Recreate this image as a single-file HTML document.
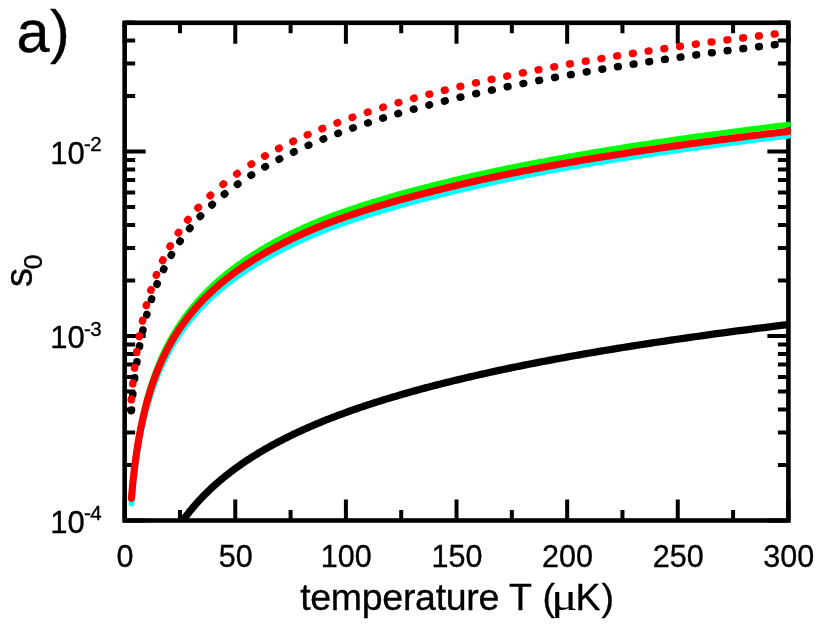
<!DOCTYPE html>
<html><head><meta charset="utf-8"><title>a)</title>
<style>
html,body{margin:0;padding:0;background:#fff;}
body{width:830px;height:626px;overflow:hidden;font-family:"Liberation Sans",sans-serif;}
svg{display:block;will-change:transform;}
text{font-family:"Liberation Sans",sans-serif;fill:#000;stroke:#000;stroke-width:0.35px;}
</style></head><body>
<svg width="830" height="626" viewBox="0 0 830 626">
<rect width="830" height="626" fill="#fff"/>
<rect x="124.65" y="22.8" width="663.75" height="497.7" fill="none" stroke="#000" stroke-width="4.6"/>
<path d="M124.65 520.5 v-21 M124.65 22.8 v21 M179.96 520.5 v-10.5 M179.96 22.8 v10.5 M235.28 520.5 v-21 M235.28 22.8 v21 M290.59 520.5 v-10.5 M290.59 22.8 v10.5 M345.90 520.5 v-21 M345.90 22.8 v21 M401.21 520.5 v-10.5 M401.21 22.8 v10.5 M456.52 520.5 v-21 M456.52 22.8 v21 M511.84 520.5 v-10.5 M511.84 22.8 v10.5 M567.15 520.5 v-21 M567.15 22.8 v21 M622.46 520.5 v-10.5 M622.46 22.8 v10.5 M677.77 520.5 v-21 M677.77 22.8 v21 M733.09 520.5 v-10.5 M733.09 22.8 v10.5 M788.40 520.5 v-21 M788.40 22.8 v21 M124.65 520.50 h21 M788.4 520.50 h-21 M124.65 464.96 h10.5 M788.4 464.96 h-10.5 M124.65 432.47 h10.5 M788.4 432.47 h-10.5 M124.65 409.42 h10.5 M788.4 409.42 h-10.5 M124.65 391.54 h10.5 M788.4 391.54 h-10.5 M124.65 376.93 h10.5 M788.4 376.93 h-10.5 M124.65 364.58 h10.5 M788.4 364.58 h-10.5 M124.65 353.88 h10.5 M788.4 353.88 h-10.5 M124.65 344.44 h10.5 M788.4 344.44 h-10.5 M124.65 336.00 h21 M788.4 336.00 h-21 M124.65 280.46 h10.5 M788.4 280.46 h-10.5 M124.65 247.97 h10.5 M788.4 247.97 h-10.5 M124.65 224.92 h10.5 M788.4 224.92 h-10.5 M124.65 207.04 h10.5 M788.4 207.04 h-10.5 M124.65 192.43 h10.5 M788.4 192.43 h-10.5 M124.65 180.08 h10.5 M788.4 180.08 h-10.5 M124.65 169.38 h10.5 M788.4 169.38 h-10.5 M124.65 159.94 h10.5 M788.4 159.94 h-10.5 M124.65 151.50 h21 M788.4 151.50 h-21 M124.65 95.96 h10.5 M788.4 95.96 h-10.5 M124.65 63.47 h10.5 M788.4 63.47 h-10.5 M124.65 40.42 h10.5 M788.4 40.42 h-10.5 M124.65 22.54 h10.5 M788.4 22.54 h-10.5" stroke="#000" stroke-width="4.0" fill="none"/>
<clipPath id="cp"><rect x="0" y="0" width="790.70" height="521.00"/></clipPath>
<clipPath id="cr"><rect x="0" y="0" width="790.70" height="626"/></clipPath>
<path d="M131.42 692.91 L131.50 692.00 L131.58 691.08 L131.66 690.16 L131.74 689.24 L131.82 688.32 L131.90 687.40 L131.99 686.48 L132.07 685.57 L132.16 684.65 L132.24 683.73 L132.33 682.81 L132.42 681.89 L132.51 680.97 L132.60 680.05 L132.69 679.14 L132.78 678.22 L132.88 677.30 L132.97 676.38 L133.07 675.46 L133.16 674.54 L133.26 673.63 L133.36 672.71 L133.46 671.79 L133.56 670.87 L133.67 669.95 L133.77 669.03 L133.88 668.11 L133.98 667.20 L134.09 666.28 L134.20 665.36 L134.31 664.44 L134.42 663.52 L134.53 662.60 L134.65 661.68 L134.76 660.77 L134.88 659.85 L135.00 658.93 L135.12 658.01 L135.24 657.09 L135.36 656.17 L135.48 655.25 L135.61 654.34 L135.73 653.42 L135.86 652.50 L135.99 651.58 L136.12 650.66 L136.25 649.74 L136.39 648.82 L136.52 647.91 L136.66 646.99 L136.80 646.07 L136.94 645.15 L137.08 644.23 L137.22 643.31 L137.37 642.39 L137.51 641.48 L137.66 640.56 L137.81 639.64 L137.96 638.72 L138.12 637.80 L138.27 636.88 L138.43 635.97 L138.59 635.05 L138.75 634.13 L138.91 633.21 L139.08 632.29 L139.24 631.37 L139.41 630.45 L139.58 629.54 L139.75 628.62 L139.93 627.70 L140.10 626.78 L140.28 625.86 L140.46 624.94 L140.65 624.02 L140.83 623.11 L141.02 622.19 L141.20 621.27 L141.40 620.35 L141.59 619.43 L141.78 618.51 L141.98 617.59 L142.18 616.68 L142.38 615.76 L142.59 614.84 L142.79 613.92 L143.00 613.00 L143.22 612.08 L143.43 611.16 L143.65 610.25 L143.87 609.33 L144.09 608.41 L144.31 607.49 L144.54 606.57 L144.77 605.65 L145.00 604.74 L145.23 603.82 L145.47 602.90 L145.71 601.98 L145.95 601.06 L146.20 600.14 L146.45 599.22 L146.70 598.31 L146.95 597.39 L147.21 596.47 L147.47 595.55 L147.73 594.63 L148.00 593.71 L148.27 592.79 L148.54 591.88 L148.82 590.96 L149.10 590.04 L149.38 589.12 L149.66 588.20 L149.95 587.28 L150.24 586.36 L150.54 585.45 L150.84 584.53 L151.14 583.61 L151.44 582.69 L151.75 581.77 L152.06 580.85 L152.38 579.93 L152.70 579.02 L153.02 578.10 L153.35 577.18 L153.68 576.26 L154.02 575.34 L154.36 574.42 L154.70 573.51 L155.04 572.59 L155.39 571.67 L155.75 570.75 L156.11 569.83 L156.47 568.91 L156.84 567.99 L157.21 567.08 L157.58 566.16 L157.96 565.24 L158.35 564.32 L158.74 563.40 L159.13 562.48 L159.53 561.56 L159.93 560.65 L160.34 559.73 L160.75 558.81 L161.16 557.89 L161.58 556.97 L162.01 556.05 L162.44 555.13 L162.88 554.22 L163.32 553.30 L163.76 552.38 L164.21 551.46 L164.67 550.54 L165.13 549.62 L165.60 548.70 L166.07 547.79 L166.55 546.87 L167.03 545.95 L167.52 545.03 L168.01 544.11 L168.51 543.19 L169.02 542.27 L169.53 541.36 L170.05 540.44 L170.57 539.52 L171.10 538.60 L171.64 537.68 L172.18 536.76 L172.73 535.85 L173.28 534.93 L173.84 534.01 L174.41 533.09 L174.98 532.17 L175.56 531.25 L176.15 530.33 L176.74 529.42 L177.34 528.50 L177.95 527.58 L178.57 526.66 L179.19 525.74 L179.82 524.82 L180.45 523.90 L181.10 522.97 L181.75 522.04 L182.40 521.12 L183.07 520.19 L183.74 519.26 L184.43 518.33 L185.11 517.41 L185.81 516.48 L186.52 515.55 L187.23 514.63 L187.95 513.70 L188.68 512.77 L189.42 511.84 L190.17 510.92 L190.92 509.99 L191.69 509.06 L192.46 508.13 L193.24 507.21 L194.03 506.28 L194.83 505.35 L195.64 504.43 L196.46 503.50 L197.29 502.57 L198.12 501.64 L198.97 500.72 L199.83 499.79 L200.69 498.86 L201.57 497.93 L202.46 497.01 L203.36 496.08 L204.26 495.15 L205.18 494.23 L206.11 493.30 L207.05 492.37 L208.00 491.44 L208.96 490.52 L209.93 489.59 L210.91 488.66 L211.91 487.74 L212.92 486.81 L213.93 485.88 L214.96 484.95 L216.00 484.03 L217.06 483.10 L218.12 482.17 L219.20 481.24 L220.29 480.32 L221.39 479.39 L222.51 478.46 L223.64 477.54 L224.78 476.61 L225.93 475.68 L227.10 474.75 L228.28 473.83 L229.48 472.90 L230.68 471.97 L231.91 471.05 L233.14 470.12 L234.39 469.19 L235.66 468.26 L236.94 467.33 L238.23 466.41 L239.54 465.48 L240.87 464.55 L242.21 463.62 L243.56 462.69 L244.93 461.76 L246.32 460.83 L247.72 459.91 L249.14 458.98 L250.58 458.05 L252.03 457.12 L253.50 456.19 L254.98 455.26 L256.49 454.33 L258.01 453.40 L259.54 452.48 L261.10 451.55 L262.67 450.62 L264.26 449.69 L265.87 448.76 L267.50 447.83 L269.15 446.90 L270.81 445.97 L272.50 445.05 L274.20 444.12 L275.93 443.19 L277.67 442.26 L279.44 441.33 L281.22 440.40 L283.03 439.47 L284.85 438.54 L286.70 437.62 L288.57 436.69 L290.46 435.76 L292.37 434.83 L294.30 433.90 L296.26 432.97 L298.24 432.04 L300.24 431.11 L302.26 430.19 L304.31 429.26 L306.38 428.33 L308.48 427.40 L310.60 426.47 L312.74 425.54 L314.91 424.61 L317.10 423.69 L319.32 422.76 L321.57 421.83 L323.84 420.90 L326.13 419.98 L328.46 419.06 L330.81 418.15 L333.18 417.23 L335.59 416.31 L338.02 415.39 L340.48 414.48 L342.97 413.56 L345.49 412.64 L348.03 411.72 L350.61 410.81 L353.21 409.89 L355.85 408.97 L358.51 408.05 L361.21 407.14 L363.94 406.22 L366.70 405.30 L369.49 404.38 L372.31 403.47 L375.16 402.55 L378.05 401.63 L380.97 400.71 L383.93 399.80 L386.92 398.88 L389.94 397.96 L393.00 397.04 L396.09 396.13 L399.22 395.21 L402.39 394.29 L405.59 393.37 L408.83 392.46 L412.11 391.54 L415.42 390.62 L418.77 389.70 L422.17 388.79 L425.60 387.87 L429.07 386.95 L432.58 386.03 L436.13 385.12 L439.72 384.20 L443.35 383.28 L447.02 382.36 L450.74 381.45 L454.50 380.53 L458.30 379.61 L462.15 378.69 L466.04 377.78 L469.98 376.86 L473.96 375.94 L477.99 375.02 L482.06 374.10 L486.18 373.19 L490.35 372.27 L494.56 371.35 L498.83 370.43 L503.14 369.52 L507.51 368.60 L511.92 367.68 L516.39 366.76 L520.90 365.85 L525.47 364.93 L530.09 364.01 L534.77 363.09 L539.50 362.18 L544.28 361.26 L549.12 360.34 L554.01 359.42 L558.96 358.51 L563.97 357.59 L569.03 356.67 L574.16 355.75 L579.34 354.84 L584.58 353.92 L589.88 353.00 L595.25 352.08 L600.67 351.17 L606.16 350.25 L611.71 349.33 L617.33 348.41 L623.01 347.50 L628.75 346.58 L634.57 345.66 L640.45 344.74 L646.39 343.83 L652.41 342.91 L658.49 341.99 L664.65 341.07 L670.87 340.16 L677.17 339.24 L683.54 338.32 L689.98 337.40 L696.50 336.49 L703.10 335.57 L709.76 334.65 L716.51 333.73 L723.33 332.82 L730.24 331.90 L737.22 330.98 L744.28 330.06 L751.43 329.15 L758.65 328.23 L765.96 327.31 L773.36 326.39 L780.83 325.48 L788.40 324.56" stroke="#000" stroke-width="7.3" fill="none" stroke-linejoin="round" clip-path="url(#cp)"/>
<path d="M131.42 503.62 L131.50 502.69 L131.58 501.77 L131.66 500.85 L131.74 499.92 L131.82 499.00 L131.90 498.08 L131.99 497.16 L132.07 496.23 L132.16 495.31 L132.24 494.39 L132.33 493.46 L132.42 492.54 L132.51 491.62 L132.60 490.70 L132.69 489.77 L132.78 488.85 L132.88 487.93 L132.97 487.00 L133.07 486.08 L133.16 485.16 L133.26 484.24 L133.36 483.31 L133.46 482.39 L133.56 481.47 L133.67 480.54 L133.77 479.62 L133.88 478.70 L133.98 477.78 L134.09 476.85 L134.20 475.93 L134.31 475.01 L134.42 474.08 L134.53 473.16 L134.65 472.24 L134.76 471.32 L134.88 470.39 L135.00 469.47 L135.12 468.55 L135.24 467.62 L135.36 466.70 L135.48 465.78 L135.61 464.86 L135.73 463.93 L135.86 463.01 L135.99 462.09 L136.12 461.16 L136.25 460.24 L136.39 459.32 L136.52 458.40 L136.66 457.47 L136.80 456.55 L136.94 455.63 L137.08 454.70 L137.22 453.78 L137.37 452.86 L137.51 451.94 L137.66 451.01 L137.81 450.09 L137.96 449.17 L138.12 448.24 L138.27 447.32 L138.43 446.40 L138.59 445.47 L138.75 444.55 L138.91 443.63 L139.08 442.71 L139.24 441.78 L139.41 440.86 L139.58 439.94 L139.75 439.01 L139.93 438.09 L140.10 437.17 L140.28 436.25 L140.46 435.32 L140.65 434.40 L140.83 433.48 L141.02 432.55 L141.20 431.63 L141.40 430.71 L141.59 429.79 L141.78 428.86 L141.98 427.94 L142.18 427.02 L142.38 426.09 L142.59 425.16 L142.79 424.22 L143.00 423.29 L143.22 422.35 L143.43 421.42 L143.65 420.48 L143.87 419.55 L144.09 418.62 L144.31 417.68 L144.54 416.75 L144.77 415.81 L145.00 414.88 L145.23 413.94 L145.47 413.01 L145.71 412.07 L145.95 411.14 L146.20 410.20 L146.45 409.27 L146.70 408.33 L146.95 407.40 L147.21 406.46 L147.47 405.53 L147.73 404.59 L148.00 403.66 L148.27 402.73 L148.54 401.79 L148.82 400.86 L149.10 399.92 L149.38 398.99 L149.66 398.05 L149.95 397.12 L150.24 396.18 L150.54 395.25 L150.84 394.31 L151.14 393.38 L151.44 392.44 L151.75 391.51 L152.06 390.58 L152.38 389.64 L152.70 388.71 L153.02 387.77 L153.35 386.84 L153.68 385.90 L154.02 384.97 L154.36 384.03 L154.70 383.10 L155.04 382.16 L155.39 381.23 L155.75 380.29 L156.11 379.36 L156.47 378.43 L156.84 377.49 L157.21 376.56 L157.58 375.62 L157.96 374.69 L158.35 373.76 L158.74 372.83 L159.13 371.90 L159.53 370.97 L159.93 370.04 L160.34 369.11 L160.75 368.18 L161.16 367.25 L161.58 366.32 L162.01 365.39 L162.44 364.46 L162.88 363.53 L163.32 362.60 L163.76 361.67 L164.21 360.74 L164.67 359.81 L165.13 358.88 L165.60 357.95 L166.07 357.02 L166.55 356.09 L167.03 355.16 L167.52 354.23 L168.01 353.30 L168.51 352.37 L169.02 351.44 L169.53 350.52 L170.05 349.59 L170.57 348.67 L171.10 347.75 L171.64 346.82 L172.18 345.90 L172.73 344.98 L173.28 344.05 L173.84 343.13 L174.41 342.21 L174.98 341.28 L175.56 340.36 L176.15 339.44 L176.74 338.52 L177.34 337.59 L177.95 336.67 L178.57 335.75 L179.19 334.82 L179.82 333.90 L180.45 332.98 L181.10 332.05 L181.75 331.13 L182.40 330.21 L183.07 329.28 L183.74 328.36 L184.43 327.44 L185.11 326.52 L185.81 325.59 L186.52 324.67 L187.23 323.75 L187.95 322.82 L188.68 321.90 L189.42 320.98 L190.17 320.05 L190.92 319.13 L191.69 318.21 L192.46 317.28 L193.24 316.36 L194.03 315.44 L194.83 314.52 L195.64 313.59 L196.46 312.67 L197.29 311.75 L198.12 310.82 L198.97 309.90 L199.83 308.98 L200.69 308.05 L201.57 307.13 L202.46 306.21 L203.36 305.29 L204.26 304.36 L205.18 303.44 L206.11 302.52 L207.05 301.59 L208.00 300.67 L208.96 299.75 L209.93 298.82 L210.91 297.90 L211.91 296.98 L212.92 296.05 L213.93 295.13 L214.96 294.22 L216.00 293.30 L217.06 292.38 L218.12 291.46 L219.20 290.54 L220.29 289.62 L221.39 288.70 L222.51 287.78 L223.64 286.86 L224.78 285.94 L225.93 285.02 L227.10 284.10 L228.28 283.19 L229.48 282.27 L230.68 281.35 L231.91 280.43 L233.14 279.51 L234.39 278.59 L235.66 277.67 L236.94 276.75 L238.23 275.83 L239.54 274.91 L240.87 273.99 L242.21 273.07 L243.56 272.16 L244.93 271.24 L246.32 270.32 L247.72 269.40 L249.14 268.48 L250.58 267.56 L252.03 266.64 L253.50 265.72 L254.98 264.80 L256.49 263.88 L258.01 262.96 L259.54 262.04 L261.10 261.12 L262.67 260.21 L264.26 259.29 L265.87 258.37 L267.50 257.45 L269.15 256.53 L270.81 255.61 L272.50 254.69 L274.20 253.77 L275.93 252.85 L277.67 251.93 L279.44 251.01 L281.22 250.08 L283.03 249.15 L284.85 248.22 L286.70 247.29 L288.57 246.36 L290.46 245.43 L292.37 244.50 L294.30 243.57 L296.26 242.64 L298.24 241.71 L300.24 240.78 L302.26 239.85 L304.31 238.92 L306.38 237.99 L308.48 237.06 L310.60 236.13 L312.74 235.20 L314.91 234.27 L317.10 233.34 L319.32 232.41 L321.57 231.48 L323.84 230.55 L326.13 229.66 L328.46 228.77 L330.81 227.88 L333.18 227.00 L335.59 226.11 L338.02 225.22 L340.48 224.33 L342.97 223.44 L345.49 222.56 L348.03 221.67 L350.61 220.78 L353.21 219.89 L355.85 219.01 L358.51 218.12 L361.21 217.23 L363.94 216.34 L366.70 215.46 L369.49 214.57 L372.31 213.68 L375.16 212.79 L378.05 211.91 L380.97 211.02 L383.93 210.13 L386.92 209.24 L389.94 208.36 L393.00 207.47 L396.09 206.58 L399.22 205.69 L402.39 204.81 L405.59 203.92 L408.83 203.03 L412.11 202.14 L415.42 201.26 L418.77 200.37 L422.17 199.48 L425.60 198.59 L429.07 197.71 L432.58 196.81 L436.13 195.90 L439.72 194.98 L443.35 194.05 L447.02 193.13 L450.74 192.21 L454.50 191.29 L458.30 190.36 L462.15 189.44 L466.04 188.52 L469.98 187.60 L473.96 186.68 L477.99 185.75 L482.06 184.83 L486.18 183.91 L490.35 182.99 L494.56 182.07 L498.83 181.14 L503.14 180.22 L507.51 179.30 L511.92 178.38 L516.39 177.46 L520.90 176.53 L525.47 175.61 L530.09 174.69 L534.77 173.77 L539.50 172.84 L544.28 171.92 L549.12 171.01 L554.01 170.11 L558.96 169.21 L563.97 168.31 L569.03 167.40 L574.16 166.50 L579.34 165.60 L584.58 164.70 L589.88 163.80 L595.25 162.90 L600.67 162.00 L606.16 161.10 L611.71 160.20 L617.33 159.30 L623.01 158.40 L628.75 157.49 L634.57 156.59 L640.45 155.69 L646.39 154.79 L652.41 153.89 L658.49 152.99 L664.65 152.09 L670.87 151.19 L677.17 150.29 L683.54 149.39 L689.98 148.49 L696.50 147.59 L703.10 146.68 L709.76 145.78 L716.51 144.88 L723.33 143.98 L730.24 143.08 L737.22 142.18 L744.28 141.28 L751.43 140.38 L758.65 139.48 L765.96 138.58 L773.36 137.68 L780.83 136.78 L788.40 135.88" stroke="#00ffff" stroke-width="5.8" fill="none" stroke-linejoin="round" stroke-linecap="round" clip-path="url(#cr)"/>
<path d="M131.42 496.80 L131.50 495.86 L131.58 494.93 L131.66 493.99 L131.74 493.06 L131.82 492.12 L131.90 491.19 L131.99 490.25 L132.07 489.32 L132.16 488.38 L132.24 487.45 L132.33 486.52 L132.42 485.58 L132.51 484.65 L132.60 483.71 L132.69 482.78 L132.78 481.84 L132.88 480.91 L132.97 479.97 L133.07 479.04 L133.16 478.10 L133.26 477.17 L133.36 476.24 L133.46 475.30 L133.56 474.37 L133.67 473.43 L133.77 472.50 L133.88 471.56 L133.98 470.63 L134.09 469.69 L134.20 468.76 L134.31 467.82 L134.42 466.89 L134.53 465.96 L134.65 465.02 L134.76 464.09 L134.88 463.15 L135.00 462.22 L135.12 461.28 L135.24 460.35 L135.36 459.41 L135.48 458.48 L135.61 457.54 L135.73 456.61 L135.86 455.67 L135.99 454.74 L136.12 453.81 L136.25 452.87 L136.39 451.94 L136.52 451.00 L136.66 450.07 L136.80 449.13 L136.94 448.20 L137.08 447.26 L137.22 446.33 L137.37 445.39 L137.51 444.46 L137.66 443.53 L137.81 442.59 L137.96 441.66 L138.12 440.72 L138.27 439.79 L138.43 438.85 L138.59 437.92 L138.75 436.98 L138.91 436.05 L139.08 435.11 L139.24 434.18 L139.41 433.25 L139.58 432.31 L139.75 431.38 L139.93 430.44 L140.10 429.51 L140.28 428.57 L140.46 427.64 L140.65 426.70 L140.83 425.77 L141.02 424.83 L141.20 423.90 L141.40 422.97 L141.59 422.03 L141.78 421.10 L141.98 420.16 L142.18 419.23 L142.38 418.29 L142.59 417.34 L142.79 416.38 L143.00 415.43 L143.22 414.48 L143.43 413.53 L143.65 412.57 L143.87 411.62 L144.09 410.67 L144.31 409.71 L144.54 408.76 L144.77 407.81 L145.00 406.85 L145.23 405.90 L145.47 404.95 L145.71 404.00 L145.95 403.04 L146.20 402.09 L146.45 401.14 L146.70 400.18 L146.95 399.23 L147.21 398.28 L147.47 397.33 L147.73 396.37 L148.00 395.42 L148.27 394.47 L148.54 393.51 L148.82 392.56 L149.10 391.61 L149.38 390.65 L149.66 389.70 L149.95 388.75 L150.24 387.80 L150.54 386.84 L150.84 385.89 L151.14 384.94 L151.44 383.98 L151.75 383.03 L152.06 382.08 L152.38 381.13 L152.70 380.17 L153.02 379.22 L153.35 378.27 L153.68 377.31 L154.02 376.36 L154.36 375.41 L154.70 374.46 L155.04 373.50 L155.39 372.55 L155.75 371.60 L156.11 370.65 L156.47 369.69 L156.84 368.74 L157.21 367.79 L157.58 366.83 L157.96 365.88 L158.35 364.93 L158.74 363.98 L159.13 363.03 L159.53 362.07 L159.93 361.12 L160.34 360.17 L160.75 359.22 L161.16 358.26 L161.58 357.31 L162.01 356.36 L162.44 355.41 L162.88 354.46 L163.32 353.50 L163.76 352.55 L164.21 351.60 L164.67 350.65 L165.13 349.70 L165.60 348.74 L166.07 347.79 L166.55 346.84 L167.03 345.89 L167.52 344.94 L168.01 343.98 L168.51 343.03 L169.02 342.08 L169.53 341.14 L170.05 340.19 L170.57 339.25 L171.10 338.30 L171.64 337.36 L172.18 336.41 L172.73 335.47 L173.28 334.52 L173.84 333.58 L174.41 332.63 L174.98 331.69 L175.56 330.74 L176.15 329.80 L176.74 328.85 L177.34 327.91 L177.95 326.96 L178.57 326.02 L179.19 325.07 L179.82 324.13 L180.45 323.18 L181.10 322.23 L181.75 321.29 L182.40 320.34 L183.07 319.40 L183.74 318.45 L184.43 317.51 L185.11 316.56 L185.81 315.62 L186.52 314.67 L187.23 313.73 L187.95 312.78 L188.68 311.84 L189.42 310.89 L190.17 309.95 L190.92 309.00 L191.69 308.06 L192.46 307.11 L193.24 306.17 L194.03 305.22 L194.83 304.28 L195.64 303.33 L196.46 302.39 L197.29 301.44 L198.12 300.50 L198.97 299.55 L199.83 298.61 L200.69 297.66 L201.57 296.72 L202.46 295.77 L203.36 294.83 L204.26 293.88 L205.18 292.94 L206.11 291.99 L207.05 291.05 L208.00 290.10 L208.96 289.16 L209.93 288.21 L210.91 287.27 L211.91 286.32 L212.92 285.38 L213.93 284.43 L214.96 283.49 L216.00 282.55 L217.06 281.61 L218.12 280.67 L219.20 279.72 L220.29 278.78 L221.39 277.84 L222.51 276.90 L223.64 275.96 L224.78 275.01 L225.93 274.07 L227.10 273.13 L228.28 272.19 L229.48 271.25 L230.68 270.30 L231.91 269.36 L233.14 268.42 L234.39 267.48 L235.66 266.54 L236.94 265.59 L238.23 264.65 L239.54 263.71 L240.87 262.77 L242.21 261.82 L243.56 260.88 L244.93 259.94 L246.32 259.00 L247.72 258.06 L249.14 257.11 L250.58 256.17 L252.03 255.23 L253.50 254.29 L254.98 253.35 L256.49 252.40 L258.01 251.46 L259.54 250.52 L261.10 249.58 L262.67 248.64 L264.26 247.69 L265.87 246.75 L267.50 245.81 L269.15 244.87 L270.81 243.93 L272.50 242.98 L274.20 242.04 L275.93 241.10 L277.67 240.16 L279.44 239.22 L281.22 238.29 L283.03 237.36 L284.85 236.44 L286.70 235.51 L288.57 234.59 L290.46 233.66 L292.37 232.74 L294.30 231.81 L296.26 230.89 L298.24 229.96 L300.24 229.04 L302.26 228.11 L304.31 227.19 L306.38 226.26 L308.48 225.33 L310.60 224.41 L312.74 223.48 L314.91 222.56 L317.10 221.63 L319.32 220.71 L321.57 219.78 L323.84 218.86 L326.13 217.98 L328.46 217.09 L330.81 216.21 L333.18 215.33 L335.59 214.44 L338.02 213.56 L340.48 212.68 L342.97 211.80 L345.49 210.91 L348.03 210.03 L350.61 209.15 L353.21 208.27 L355.85 207.38 L358.51 206.50 L361.21 205.62 L363.94 204.74 L366.70 203.85 L369.49 202.97 L372.31 202.09 L375.16 201.21 L378.05 200.32 L380.97 199.44 L383.93 198.56 L386.92 197.68 L389.94 196.79 L393.00 195.91 L396.09 195.03 L399.22 194.15 L402.39 193.26 L405.59 192.38 L408.83 191.50 L412.11 190.62 L415.42 189.73 L418.77 188.85 L422.17 187.97 L425.60 187.09 L429.07 186.21 L432.58 185.32 L436.13 184.43 L439.72 183.53 L443.35 182.63 L447.02 181.73 L450.74 180.83 L454.50 179.93 L458.30 179.03 L462.15 178.12 L466.04 177.22 L469.98 176.32 L473.96 175.42 L477.99 174.52 L482.06 173.62 L486.18 172.72 L490.35 171.82 L494.56 170.91 L498.83 170.01 L503.14 169.11 L507.51 168.21 L511.92 167.31 L516.39 166.41 L520.90 165.51 L525.47 164.61 L530.09 163.70 L534.77 162.80 L539.50 161.90 L544.28 161.00 L549.12 160.11 L554.01 159.20 L558.96 158.29 L563.97 157.38 L569.03 156.47 L574.16 155.57 L579.34 154.66 L584.58 153.75 L589.88 152.84 L595.25 151.93 L600.67 151.02 L606.16 150.11 L611.71 149.21 L617.33 148.30 L623.01 147.39 L628.75 146.48 L634.57 145.57 L640.45 144.66 L646.39 143.75 L652.41 142.85 L658.49 141.94 L664.65 141.03 L670.87 140.12 L677.17 139.21 L683.54 138.30 L689.98 137.39 L696.50 136.49 L703.10 135.58 L709.76 134.67 L716.51 133.76 L723.33 132.85 L730.24 131.94 L737.22 131.03 L744.28 130.13 L751.43 129.22 L758.65 128.31 L765.96 127.40 L773.36 126.49 L780.83 125.58 L788.40 124.68" stroke="#00ff00" stroke-width="5.8" fill="none" stroke-linejoin="round" stroke-linecap="round" clip-path="url(#cr)"/>
<path d="M131.42 498.32 L131.50 497.39 L131.58 496.47 L131.66 495.55 L131.74 494.62 L131.82 493.70 L131.90 492.78 L131.99 491.86 L132.07 490.93 L132.16 490.01 L132.24 489.09 L132.33 488.16 L132.42 487.24 L132.51 486.32 L132.60 485.40 L132.69 484.47 L132.78 483.55 L132.88 482.63 L132.97 481.70 L133.07 480.78 L133.16 479.86 L133.26 478.94 L133.36 478.01 L133.46 477.09 L133.56 476.17 L133.67 475.24 L133.77 474.32 L133.88 473.40 L133.98 472.48 L134.09 471.55 L134.20 470.63 L134.31 469.71 L134.42 468.78 L134.53 467.86 L134.65 466.94 L134.76 466.02 L134.88 465.09 L135.00 464.17 L135.12 463.25 L135.24 462.32 L135.36 461.40 L135.48 460.48 L135.61 459.56 L135.73 458.63 L135.86 457.71 L135.99 456.79 L136.12 455.86 L136.25 454.94 L136.39 454.02 L136.52 453.10 L136.66 452.17 L136.80 451.25 L136.94 450.33 L137.08 449.40 L137.22 448.48 L137.37 447.56 L137.51 446.64 L137.66 445.71 L137.81 444.79 L137.96 443.87 L138.12 442.94 L138.27 442.02 L138.43 441.10 L138.59 440.17 L138.75 439.25 L138.91 438.33 L139.08 437.41 L139.24 436.48 L139.41 435.56 L139.58 434.64 L139.75 433.71 L139.93 432.79 L140.10 431.87 L140.28 430.95 L140.46 430.02 L140.65 429.10 L140.83 428.18 L141.02 427.25 L141.20 426.33 L141.40 425.41 L141.59 424.49 L141.78 423.56 L141.98 422.64 L142.18 421.72 L142.38 420.79 L142.59 419.86 L142.79 418.92 L143.00 417.99 L143.22 417.05 L143.43 416.12 L143.65 415.18 L143.87 414.25 L144.09 413.32 L144.31 412.38 L144.54 411.45 L144.77 410.51 L145.00 409.58 L145.23 408.64 L145.47 407.71 L145.71 406.77 L145.95 405.84 L146.20 404.90 L146.45 403.97 L146.70 403.03 L146.95 402.10 L147.21 401.16 L147.47 400.23 L147.73 399.29 L148.00 398.36 L148.27 397.43 L148.54 396.49 L148.82 395.56 L149.10 394.62 L149.38 393.69 L149.66 392.75 L149.95 391.82 L150.24 390.88 L150.54 389.95 L150.84 389.01 L151.14 388.08 L151.44 387.14 L151.75 386.21 L152.06 385.28 L152.38 384.34 L152.70 383.41 L153.02 382.47 L153.35 381.54 L153.68 380.60 L154.02 379.67 L154.36 378.73 L154.70 377.80 L155.04 376.86 L155.39 375.93 L155.75 374.99 L156.11 374.06 L156.47 373.13 L156.84 372.19 L157.21 371.26 L157.58 370.32 L157.96 369.39 L158.35 368.45 L158.74 367.52 L159.13 366.58 L159.53 365.65 L159.93 364.71 L160.34 363.78 L160.75 362.85 L161.16 361.91 L161.58 360.98 L162.01 360.04 L162.44 359.11 L162.88 358.17 L163.32 357.24 L163.76 356.30 L164.21 355.37 L164.67 354.43 L165.13 353.50 L165.60 352.57 L166.07 351.63 L166.55 350.70 L167.03 349.76 L167.52 348.83 L168.01 347.89 L168.51 346.96 L169.02 346.03 L169.53 345.10 L170.05 344.17 L170.57 343.24 L171.10 342.32 L171.64 341.39 L172.18 340.46 L172.73 339.53 L173.28 338.61 L173.84 337.68 L174.41 336.75 L174.98 335.82 L175.56 334.90 L176.15 333.97 L176.74 333.04 L177.34 332.11 L177.95 331.18 L178.57 330.26 L179.19 329.33 L179.82 328.40 L180.45 327.47 L181.10 326.55 L181.75 325.62 L182.40 324.69 L183.07 323.76 L183.74 322.84 L184.43 321.91 L185.11 320.98 L185.81 320.05 L186.52 319.13 L187.23 318.20 L187.95 317.27 L188.68 316.34 L189.42 315.42 L190.17 314.49 L190.92 313.56 L191.69 312.63 L192.46 311.71 L193.24 310.78 L194.03 309.85 L194.83 308.92 L195.64 308.00 L196.46 307.07 L197.29 306.14 L198.12 305.21 L198.97 304.29 L199.83 303.36 L200.69 302.43 L201.57 301.50 L202.46 300.58 L203.36 299.65 L204.26 298.72 L205.18 297.79 L206.11 296.87 L207.05 295.94 L208.00 295.01 L208.96 294.08 L209.93 293.16 L210.91 292.23 L211.91 291.30 L212.92 290.37 L213.93 289.45 L214.96 288.53 L216.00 287.60 L217.06 286.68 L218.12 285.75 L219.20 284.83 L220.29 283.91 L221.39 282.98 L222.51 282.06 L223.64 281.14 L224.78 280.21 L225.93 279.29 L227.10 278.37 L228.28 277.44 L229.48 276.52 L230.68 275.59 L231.91 274.67 L233.14 273.75 L234.39 272.82 L235.66 271.90 L236.94 270.98 L238.23 270.05 L239.54 269.13 L240.87 268.21 L242.21 267.28 L243.56 266.36 L244.93 265.43 L246.32 264.51 L247.72 263.59 L249.14 262.66 L250.58 261.74 L252.03 260.82 L253.50 259.89 L254.98 258.97 L256.49 258.05 L258.01 257.12 L259.54 256.20 L261.10 255.27 L262.67 254.35 L264.26 253.43 L265.87 252.50 L267.50 251.58 L269.15 250.66 L270.81 249.73 L272.50 248.81 L274.20 247.89 L275.93 246.96 L277.67 246.04 L279.44 245.11 L281.22 244.19 L283.03 243.27 L284.85 242.34 L286.70 241.42 L288.57 240.50 L290.46 239.57 L292.37 238.65 L294.30 237.73 L296.26 236.80 L298.24 235.88 L300.24 234.95 L302.26 234.03 L304.31 233.11 L306.38 232.18 L308.48 231.26 L310.60 230.34 L312.74 229.41 L314.91 228.49 L317.10 227.57 L319.32 226.64 L321.57 225.72 L323.84 224.80 L326.13 223.91 L328.46 223.03 L330.81 222.15 L333.18 221.27 L335.59 220.39 L338.02 219.51 L340.48 218.63 L342.97 217.75 L345.49 216.87 L348.03 215.98 L350.61 215.10 L353.21 214.22 L355.85 213.34 L358.51 212.46 L361.21 211.58 L363.94 210.70 L366.70 209.82 L369.49 208.94 L372.31 208.06 L375.16 207.18 L378.05 206.30 L380.97 205.41 L383.93 204.53 L386.92 203.65 L389.94 202.77 L393.00 201.89 L396.09 201.01 L399.22 200.13 L402.39 199.25 L405.59 198.37 L408.83 197.49 L412.11 196.61 L415.42 195.73 L418.77 194.85 L422.17 193.97 L425.60 193.09 L429.07 192.20 L432.58 191.32 L436.13 190.43 L439.72 189.53 L443.35 188.63 L447.02 187.73 L450.74 186.83 L454.50 185.93 L458.30 185.03 L462.15 184.12 L466.04 183.22 L469.98 182.32 L473.96 181.42 L477.99 180.52 L482.06 179.62 L486.18 178.72 L490.35 177.82 L494.56 176.91 L498.83 176.01 L503.14 175.11 L507.51 174.21 L511.92 173.31 L516.39 172.41 L520.90 171.51 L525.47 170.61 L530.09 169.70 L534.77 168.80 L539.50 167.90 L544.28 167.00 L549.12 166.11 L554.01 165.22 L558.96 164.33 L563.97 163.44 L569.03 162.55 L574.16 161.65 L579.34 160.76 L584.58 159.87 L589.88 158.98 L595.25 158.09 L600.67 157.20 L606.16 156.31 L611.71 155.42 L617.33 154.53 L623.01 153.64 L628.75 152.75 L634.57 151.86 L640.45 150.97 L646.39 150.08 L652.41 149.19 L658.49 148.30 L664.65 147.40 L670.87 146.51 L677.17 145.62 L683.54 144.73 L689.98 143.84 L696.50 142.95 L703.10 142.06 L709.76 141.17 L716.51 140.28 L723.33 139.39 L730.24 138.50 L737.22 137.61 L744.28 136.72 L751.43 135.83 L758.65 134.94 L765.96 134.05 L773.36 133.16 L780.83 132.27 L788.40 131.38" stroke="#ff0000" stroke-width="7.1" fill="none" stroke-linejoin="round" stroke-linecap="round" clip-path="url(#cr)"/>
<path d="M131.32 410.70L131.38 410.00M132.81 394.59L132.88 393.89M134.63 378.50L134.71 377.81M136.84 362.47L136.94 361.78M139.52 346.51L139.65 345.82M142.78 330.66L142.93 329.98M146.70 314.96L146.89 314.28M151.41 299.48L151.63 298.81M156.99 284.29L157.26 283.64M163.55 269.50L163.86 268.87M171.15 255.21L171.51 254.61M179.81 241.54L180.21 240.97M189.50 228.59L189.94 228.04M200.16 216.41L200.64 215.90M211.84 204.90L212.36 204.43M224.29 194.23L224.83 193.79M237.38 184.35L237.95 183.95M251.00 175.23L251.60 174.85M264.84 166.92L265.45 166.57M279.02 159.21L279.64 158.89M293.49 152.06L294.12 151.76M308.19 145.39L308.83 145.11M323.08 139.16L323.72 138.90M337.81 133.44L338.47 133.19M352.68 128.05L353.34 127.82M367.66 122.98L368.32 122.76M382.72 118.18L383.39 117.97M397.86 113.63L398.54 113.43M413.35 109.23L414.02 109.05M428.89 105.05L429.57 104.87M444.49 101.07L445.17 100.90M460.13 97.26L460.81 97.10M475.81 93.62L476.49 93.47M491.53 90.14L492.21 89.99M507.27 86.79L507.96 86.65M523.05 83.57L523.73 83.44M538.84 80.48L539.53 80.35M554.66 77.50L555.35 77.37M570.50 74.62L571.19 74.50M586.36 71.84L587.04 71.72M601.96 69.20L602.65 69.08M617.58 66.64L618.28 66.53M633.22 64.16L633.91 64.05M648.87 61.75L649.56 61.65M664.52 59.41L665.21 59.31M680.19 57.14L680.88 57.04M695.86 54.93L696.56 54.84M711.55 52.78L712.24 52.69M727.24 50.69L727.93 50.60M742.94 48.65L743.63 48.56M758.64 46.66L759.34 46.58M774.35 44.72L775.05 44.64" stroke="#000" stroke-width="7.5" fill="none" stroke-linecap="round"/>
<path d="M131.32 399.81L131.38 399.11M132.79 383.94L132.86 383.25M134.56 368.11L134.65 367.41M136.72 352.32L136.83 351.63M139.34 336.60L139.47 335.91M142.51 320.99L142.66 320.30M146.31 305.51L146.49 304.84M150.86 290.24L151.08 289.58M156.26 275.25L156.51 274.60M162.59 260.63L162.89 260.00M169.92 246.49L170.26 245.88M178.28 232.92L178.67 232.34M187.64 220.04L188.08 219.49M197.96 207.90L198.44 207.38M210.07 195.67L210.58 195.20M223.03 184.37L223.58 183.93M236.72 173.95L237.29 173.55M251.00 164.36L251.60 163.99M264.63 156.18L265.24 155.83M278.60 148.58L279.22 148.26M292.85 141.51L293.48 141.21M307.32 134.92L307.96 134.64M321.98 128.76L322.62 128.50M336.99 122.91L337.64 122.66M352.13 117.41L352.79 117.18M367.38 112.24L368.05 112.02M382.73 107.35L383.40 107.14M398.16 102.72L398.84 102.52M413.54 98.36L414.22 98.17M428.98 94.21L429.66 94.03M444.47 90.26L445.15 90.09M460.01 86.48L460.69 86.32M475.58 82.87L476.26 82.71M491.18 79.41L491.87 79.26M506.82 76.09L507.51 75.94M522.48 72.89L523.17 72.75M538.17 69.82L538.86 69.69M553.88 66.85L554.57 66.73M569.61 64.00L570.30 63.87M585.36 61.23L586.04 61.12M601.05 58.58L601.74 58.46M616.75 56.00L617.44 55.89M632.47 53.51L633.16 53.40M648.20 51.09L648.89 50.98M663.94 48.74L664.63 48.64M679.69 46.46L680.38 46.36M695.45 44.24L696.14 44.14M711.21 42.08L711.91 41.99M726.99 39.98L727.68 39.89M742.77 37.93L743.46 37.84M758.56 35.94L759.25 35.85M774.35 33.99L775.05 33.91" stroke="#ff0000" stroke-width="7.5" fill="none" stroke-linecap="round"/>
<text x="125.05" y="567.1" font-size="30.5" text-anchor="middle">0</text>
<text x="235.68" y="567.1" font-size="30.5" text-anchor="middle">50</text>
<text x="346.30" y="567.1" font-size="30.5" text-anchor="middle">100</text>
<text x="456.92" y="567.1" font-size="30.5" text-anchor="middle">150</text>
<text x="567.55" y="567.1" font-size="30.5" text-anchor="middle">200</text>
<text x="678.17" y="567.1" font-size="30.5" text-anchor="middle">250</text>
<text x="788.80" y="567.1" font-size="30.5" text-anchor="middle">300</text>
<text x="50.2" y="532.80" font-size="31">10<tspan font-size="20.5" dy="-12.8" dx="-0.7" letter-spacing="-0.6">-4</tspan></text>
<text x="50.2" y="348.30" font-size="31">10<tspan font-size="20.5" dy="-12.8" dx="-0.7" letter-spacing="-0.6">-3</tspan></text>
<text x="50.2" y="163.80" font-size="31">10<tspan font-size="20.5" dy="-12.8" dx="-0.7" letter-spacing="-0.6">-2</tspan></text>
<text x="300.2" y="610.1" font-size="37.5" letter-spacing="-0.3">temperature</text>
<text x="509.1" y="610.1" font-size="37.5">T</text>
<text x="542.6" y="610.1" font-size="37.5">(</text>
<text transform="translate(551.2,610.1) scale(1.3,1.03)" font-size="37.5" style="font-family:Liberation Serif,serif;stroke-width:0.1px">μ</text>
<text x="575.6" y="610.1" font-size="37.5">K</text>
<text x="601.6" y="610.1" font-size="37.5">)</text>
<text x="16.4" y="52.2" font-size="59.3">a</text>
<text x="50.0" y="52.2" font-size="59.3">)</text>
<text transform="translate(32.4,287.0) rotate(-90)" font-size="38">s<tspan font-size="26.5" dx="-1.2" dy="9.9">0</tspan></text>
</svg>
</body></html>
